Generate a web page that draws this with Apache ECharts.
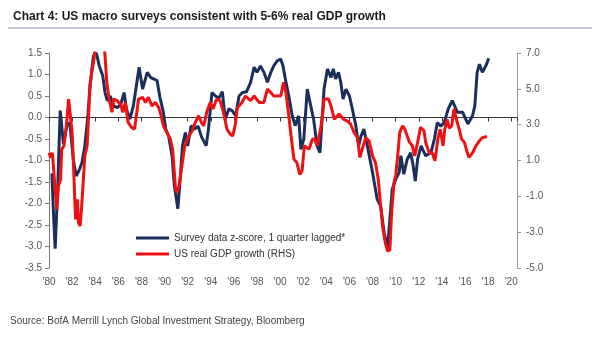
<!DOCTYPE html>
<html>
<head>
<meta charset="utf-8">
<script src="https://cdn.jsdelivr.net/npm/echarts@6/dist/echarts.min.js"></script>
<style>
html,body{margin:0;padding:0;background:#fff;}
#c{width:600px;height:344px;}
</style>
</head>
<body>
<div id="c"></div>
<script>
// Survey data z-score (LHS), 1 quarter lagged
const surveyYears = [1980.25,1980.4,1980.53,1980.73,1980.97,1981.1,1981.25,1981.55,1981.8,1982.1,1982.35,1982.65,1982.85,1983.1,1983.35,1983.55,1983.85,1984.1,1984.35,1984.65,1984.85,1985.05,1985.3,1985.6,1985.9,1986.2,1986.5,1986.7,1987.0,1987.3,1987.65,1987.8,1988.1,1988.5,1988.8,1989.05,1989.35,1989.6,1989.9,1990.1,1990.35,1990.65,1990.85,1991.15,1991.35,1991.55,1991.8,1992.0,1992.3,1992.6,1992.9,1993.2,1993.6,1993.8,1994.1,1994.4,1994.7,1995.0,1995.25,1995.55,1995.85,1996.15,1996.45,1996.75,1997.1,1997.45,1997.75,1998.0,1998.3,1998.6,1998.9,1999.2,1999.45,1999.75,2000.05,2000.25,2000.45,2000.75,2001.05,2001.3,2001.6,2001.8,2002.05,2002.35,2002.65,2002.9,2003.2,2003.45,2003.8,2004.1,2004.4,2004.6,2004.8,2005.05,2005.25,2005.45,2005.7,2006.0,2006.25,2006.55,2006.8,2007.0,2007.25,2007.55,2008.0,2008.4,2008.7,2009.0,2009.3,2009.5,2009.7,2010.0,2010.3,2010.45,2010.7,2011.0,2011.3,2011.5,2011.7,2011.9,2012.2,2012.6,2013.05,2013.35,2013.6,2013.9,2014.2,2014.55,2014.9,2015.35,2015.8,2016.25,2016.65,2016.85,2017.05,2017.25,2017.5,2017.8,2018.05];
const surveyValues = [-1.3,-2.3,-3.05,-1.82,0.16,-0.19,-0.62,-0.19,-0.12,-0.97,-1.36,-1.2,-1.05,-0.66,0.0,0.74,1.44,1.5,1.2,0.97,0.58,0.39,0.5,0.27,0.23,0.3,0.58,0.2,-0.04,0.27,0.9,1.17,0.66,1.05,0.93,0.9,0.86,0.47,0.12,-0.27,-0.43,-0.89,-1.59,-2.12,-1.44,-0.66,-0.35,-0.66,-0.19,-0.27,-0.2,-0.45,-0.66,-0.27,0.58,0.5,0.45,0.6,-0.04,0.2,0.16,0.04,0.5,0.58,0.6,0.82,1.17,1.05,1.2,1.05,0.82,1.05,1.2,1.32,1.36,1.2,0.9,0.5,0.04,-0.19,0.04,-0.74,-0.5,0.66,0.27,-0.04,-0.66,-0.82,0.66,1.13,0.93,1.13,0.9,1.05,0.82,0.43,0.66,0.5,0.2,-0.19,-0.66,-0.43,-0.27,-0.66,-1.28,-1.9,-2.06,-2.68,-3.03,-2.37,-1.67,-1.44,-1.28,-0.89,-1.32,-0.97,-0.82,-1.1,-1.48,-0.97,-0.66,-0.89,-0.82,-0.5,-0.12,-0.2,-0.12,0.2,0.39,0.12,0.12,-0.15,0.04,0.27,1.05,1.24,1.05,1.2,1.38];

// US real GDP growth % (RHS)
const gdpYears = [1980.0,1980.15,1980.3,1980.53,1980.67,1980.82,1981.0,1981.1,1981.3,1981.5,1981.7,1981.85,1982.0,1982.1,1982.3,1982.45,1982.55,1982.7,1982.85,1983.0,1983.1,1983.3,1983.4,1983.55,1983.7,1983.9,1984.1,1984.4,1984.75,1984.85,1985.0,1985.2,1985.45,1985.6,1985.9,1986.2,1986.4,1986.6,1986.85,1987.15,1987.4,1987.6,1987.75,1988.1,1988.35,1988.6,1988.9,1989.2,1989.5,1989.7,1989.9,1990.2,1990.5,1990.7,1990.93,1991.05,1991.25,1991.5,1991.75,1992.1,1992.4,1992.65,1992.95,1993.2,1993.4,1993.65,1993.95,1994.2,1994.5,1994.8,1995.1,1995.4,1995.7,1995.9,1996.1,1996.3,1996.7,1997.0,1997.45,1997.75,1998.2,1998.6,1998.9,1999.2,1999.45,2000.05,2000.3,2000.5,2000.75,2000.95,2001.2,2001.45,2001.7,2001.9,2002.1,2002.5,2002.8,2003.0,2003.2,2003.5,2003.7,2003.8,2004.2,2004.4,2004.7,2005.1,2005.5,2005.8,2006.1,2006.4,2006.7,2006.9,2007.1,2007.4,2007.7,2008.0,2008.25,2008.5,2008.7,2008.9,2009.1,2009.3,2009.5,2009.65,2009.85,2010.0,2010.2,2010.35,2010.6,2010.8,2011.0,2011.2,2011.45,2011.65,2011.9,2012.15,2012.45,2012.6,2012.9,2013.15,2013.4,2013.65,2013.85,2014.1,2014.25,2014.45,2014.65,2014.85,2015.05,2015.25,2015.5,2015.7,2015.95,2016.2,2016.35,2016.65,2016.95,2017.25,2017.5,2017.9];
const gdpValues = [1.43,1.17,1.43,-0.61,-1.74,-0.42,-0.06,1.62,1.82,2.94,4.43,4.43,2.56,1.07,-2.29,-1.16,-2.48,-2.65,-1.35,-1.35,1.26,1.82,3.11,5.18,5.92,6.66,8.0,8.0,7.6,6.86,5.37,4.43,3.69,4.43,4.34,4.14,3.69,4.24,3.11,2.85,2.75,3.69,4.43,4.53,4.24,4.53,4.05,4.24,3.95,3.5,2.94,2.56,2.2,1.62,-0.42,-0.8,-0.42,0.69,1.82,2.37,2.66,3.11,3.5,3.11,2.94,3.69,4.24,3.88,4.43,4.34,3.69,2.75,2.46,2.37,2.92,3.95,4.24,4.6,4.34,4.6,4.24,4.24,4.98,4.79,4.6,4.6,5.37,4.79,3.5,2.37,1.07,0.88,0.23,0.42,1.82,1.62,2.2,2.2,1.82,2.75,3.69,4.43,4.43,4.05,3.3,3.59,3.3,3.21,3.04,2.56,2.27,1.17,1.62,2.27,2.1,1.26,0.88,-0.06,-1.54,-2.84,-3.58,-4.06,-3.99,-1.93,-0.25,0.14,1.43,2.56,2.94,2.75,2.37,2.01,1.82,1.26,2.01,2.85,2.66,2.01,1.43,1.43,0.98,2.2,2.75,1.82,2.75,3.3,2.8,2.94,3.88,3.3,2.75,2.2,2.01,1.43,1.17,1.43,1.82,2.1,2.27,2.34];

const seriesNames = ['Survey data z-score, 1 quarter lagged*', 'US real GDP growth (RHS)'];
const titleText = 'Chart 4: US macro surveys consistent with 5-6% real GDP growth';
const sourceText = 'Source: BofA Merrill Lynch Global Investment Strategy, Bloomberg';

const surveyData = surveyYears.map((x, i) => [x, surveyValues[i]]);
const gdpData = gdpYears.map((x, i) => [x, gdpValues[i]]);

const FONT = '"Liberation Sans", Arial, sans-serif';
const yearFmt = v => (Math.abs(v - Math.round(v)) < 1e-6 && Math.round(v) % 2 === 0) ? "'" + String(Math.round(v)).slice(2) : '';

const chart = echarts.init(document.getElementById('c'), null, {renderer: 'canvas'});
chart.setOption({
  animation: false,
  backgroundColor: '#ffffff',
  textStyle: {fontFamily: FONT},
  title: {
    text: titleText, left: 8, top: 6,
    textStyle: {fontFamily: FONT, fontSize: 12, fontWeight: 'bold', color: '#1a1a1a'}
  },
  graphic: [
    {type: 'line', shape: {x1: 8, y1: 28, x2: 592, y2: 28}, style: {stroke: '#8a9bb0', lineWidth: 1}},
    {type: 'text', left: 10, top: 316, style: {text: sourceText, fontFamily: FONT, fontSize: 10, fill: '#444'}}
  ],
  legend: {
    orient: 'vertical', left: 131, top: 227,
    itemWidth: 33, itemHeight: 3, itemGap: 4, icon: 'rect',
    textStyle: {fontFamily: FONT, fontSize: 10, color: '#333', lineHeight: 12},
    data: seriesNames
  },
  grid: {left: 49, right: 83, top: 53, bottom: 76, containLabel: false},
  xAxis: [
    {
      type: 'value', min: 1980, max: 2020.5, interval: 2, position: 'bottom',
      axisLine: {show: false, onZero: false}, axisTick: {show: false}, splitLine: {show: false},
      axisLabel: {formatter: yearFmt, fontSize: 10, color: '#555', margin: 9, fontFamily: FONT}
    },
    {
      type: 'value', min: 1980, max: 2020.5, interval: 2, position: 'top',
      axisLine: {show: true, onZero: true, onZeroAxisIndex: 0, lineStyle: {color: '#333', width: 1}},
      axisTick: {show: true, inside: true, length: 4, lineStyle: {color: '#333'}},
      axisLabel: {show: false}, splitLine: {show: false}
    }
  ],
  yAxis: [
    {
      type: 'value', min: -3.5, max: 1.5, interval: 0.5, position: 'left',
      axisLine: {show: true, lineStyle: {color: '#777'}},
      axisTick: {show: true, length: 4, lineStyle: {color: '#777'}},
      splitLine: {show: false},
      axisLabel: {formatter: v => v.toFixed(1), fontSize: 10, color: '#555', margin: 7, fontFamily: FONT}
    },
    {
      type: 'value', min: -5, max: 7, interval: 2, position: 'right',
      axisLine: {show: true, lineStyle: {color: '#999'}},
      axisTick: {show: true, length: 4, lineStyle: {color: '#999'}},
      splitLine: {show: false},
      axisLabel: {formatter: v => v.toFixed(1), fontSize: 10, color: '#555', margin: 9, fontFamily: FONT}
    }
  ],
  series: [
    {
      name: seriesNames[0], type: 'line', xAxisIndex: 0, yAxisIndex: 0,
      data: surveyData, showSymbol: false, symbol: 'none', clip: true,
      lineStyle: {color: '#1b2f5c', width: 3}, itemStyle: {color: '#1b2f5c'}
    },
    {
      name: seriesNames[1], type: 'line', xAxisIndex: 0, yAxisIndex: 1,
      data: gdpData, showSymbol: false, symbol: 'none', clip: true,
      lineStyle: {color: '#ee1111', width: 3}, itemStyle: {color: '#ee1111'}
    }
  ]
});
</script>
</body>
</html>
